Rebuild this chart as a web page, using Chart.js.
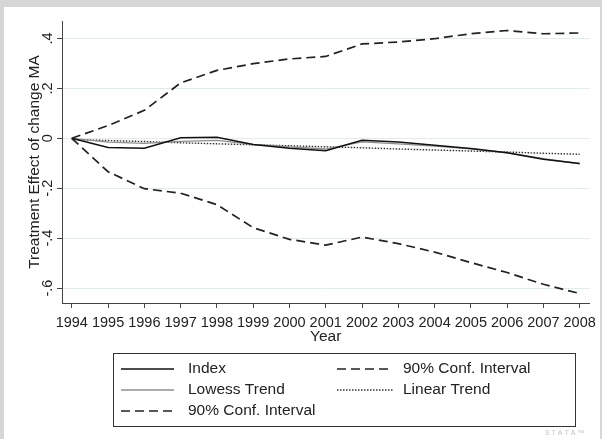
<!DOCTYPE html>
<html>
<head>
<meta charset="utf-8">
<script src="https://cdn.jsdelivr.net/npm/chart.js@4/dist/chart.umd.min.js"></script>
<style>
  html, body { margin: 0; padding: 0; background: #d6d6d6; }
  #wrap { width: 602px; height: 439px; position: relative; }
</style>
</head>
<body>
<div id="wrap"><canvas id="chart" width="602" height="439"></canvas></div>
<script>
// === Data ===
const YEARS = [1994, 1995, 1996, 1997, 1998, 1999, 2000, 2001, 2002, 2003, 2004, 2005, 2006, 2007, 2008];
const INDEX = [0, -0.037, -0.040, 0.002, 0.004, -0.025, -0.040, -0.050, -0.008, -0.015, -0.028, -0.041, -0.058, -0.084, -0.101];
const LOWESS = [0, -0.015, -0.020, -0.012, -0.008, -0.024, -0.034, -0.043, -0.014, -0.022, -0.031, -0.042, -0.058, -0.082, -0.102];
const LINEAR = [-0.005, -0.009, -0.013, -0.018, -0.022, -0.026, -0.030, -0.034, -0.038, -0.043, -0.047, -0.051, -0.055, -0.060, -0.064];
const CI_UPPER = [0, 0.051, 0.112, 0.222, 0.272, 0.299, 0.318, 0.328, 0.378, 0.386, 0.399, 0.419, 0.432, 0.419, 0.422];
const CI_LOWER = [0, -0.134, -0.202, -0.220, -0.266, -0.358, -0.405, -0.428, -0.396, -0.422, -0.456, -0.498, -0.538, -0.585, -0.622];
const Y_TICKS = [-0.6, -0.4, -0.2, 0, 0.2, 0.4];
const Y_TICK_LABELS = ['-.6', '-.4', '-.2', '0', '.2', '.4'];

const FONT = "'Liberation Sans', Arial, sans-serif";
const INK = '#222';
const TICK_PX = 14.5;
const TEXT_PX = 15.5;

const pts = (vals) => vals.map((v, i) => ({ x: YEARS[i], y: v }));

// legend slots: [dataset index, column, row]
const LEGEND_SLOTS = [[0, 0, 0], [2, 1, 0], [1, 0, 1], [3, 1, 1], [4, 0, 2]];

const framePlugin = {
    id: 'frame',
    beforeDraw(chart) {
        const c = chart.ctx;
        c.save();
        c.fillStyle = '#d6d6d6';
        c.fillRect(0, 0, chart.width, chart.height);
        c.fillStyle = '#ffffff';
        c.fillRect(4, 7, 596, 432);
        c.restore();
    },
    afterDraw(chart) {
        const c = chart.ctx;
        const ys = chart.scales.y;
        c.save();
        // stata-style rotated y tick labels
        c.fillStyle = INK;
        c.font = `${TICK_PX}px ${FONT}`;
        c.textAlign = 'center';
        c.textBaseline = 'middle';
        Y_TICKS.forEach((v, i) => {
            c.save();
            c.translate(48, ys.getPixelForValue(v));
            c.rotate(-Math.PI / 2);
            c.fillText(Y_TICK_LABELS[i], 0, 0);
            c.restore();
        });

        // legend box
        const bx = 113.5, by = 353.5, bw = 462, bh = 73;
        c.strokeStyle = '#333';
        c.lineWidth = 1;
        c.strokeRect(bx, by, bw, bh);
        const colX = [121, 337];
        const lineLen = [53, 56];
        const textX = [188, 403];
        const rowY = [369, 390, 411];
        c.font = `${TEXT_PX}px ${FONT}`;
        c.textAlign = 'left';
        LEGEND_SLOTS.forEach(([di, col, row]) => {
            const ds = chart.data.datasets[di];
            c.save();
            c.strokeStyle = ds.borderColor;
            c.lineWidth = ds.borderWidth;
            c.setLineDash(ds.borderDash || []);
            c.beginPath();
            c.moveTo(colX[col], rowY[row]);
            c.lineTo(colX[col] + lineLen[col], rowY[row]);
            c.stroke();
            c.restore();
            c.fillText(ds.label, textX[col], rowY[row]);
        });

        // watermark
        c.fillStyle = '#c4c4c4';
        c.font = `7px ${FONT}`;
        c.fillText('S T A T A ™', 545, 433);
        c.restore();
    }
};

new Chart(document.getElementById('chart'), {
    type: 'line',
    data: {
        datasets: [{
            label: 'Index',
            data: pts(INDEX),
            borderColor: '#111',
            borderWidth: 1.5
        }, {
            label: 'Lowess Trend',
            data: pts(LOWESS),
            borderColor: '#8f8f8f',
            borderWidth: 1.3
        }, {
            label: '90% Conf. Interval',
            data: pts(CI_UPPER),
            borderColor: '#222',
            borderWidth: 1.7,
            borderDash: [9, 5]
        }, {
            label: 'Linear Trend',
            data: pts(LINEAR),
            borderColor: '#333',
            borderWidth: 1.4,
            borderDash: [1.5, 1.5]
        }, {
            label: '90% Conf. Interval',
            data: pts(CI_LOWER),
            borderColor: '#222',
            borderWidth: 1.7,
            borderDash: [9, 5]
        }]
    },
    options: {
        responsive: false,
        animation: false,
        events: [],
        elements: {
            point: { radius: 0 },
            line: { tension: 0, fill: false }
        },
        layout: { padding: { left: 0, top: 21, right: 10, bottom: 0 } },
        scales: {
            x: {
                type: 'linear',
                min: 1993.73,
                max: 2008.27,
                afterBuildTicks: (s) => { s.ticks = YEARS.map(v => ({ value: v })); },
                afterFit: (s) => { s.height = 136; },
                border: { display: true, color: '#444', width: 1 },
                grid: { drawOnChartArea: false, drawTicks: true, tickLength: 5, tickColor: '#444' },
                ticks: {
                    color: INK,
                    font: { family: FONT, size: TICK_PX },
                    padding: 6,
                    maxRotation: 0,
                    autoSkip: false,
                    callback: (v) => String(v)
                },
                title: {
                    display: true,
                    text: 'Year',
                    color: INK,
                    font: { family: FONT, size: TEXT_PX },
                    padding: { top: 0, bottom: 92.5 }
                }
            },
            y: {
                min: -0.66,
                max: 0.47,
                afterBuildTicks: (s) => { s.ticks = Y_TICKS.map(v => ({ value: v })); },
                afterFit: (s) => { s.width = 62; },
                border: { display: true, color: '#444', width: 1 },
                grid: { color: '#e3eced', lineWidth: 1, drawTicks: true, tickLength: 5, tickColor: '#444' },
                ticks: { display: false },
                title: {
                    display: true,
                    text: 'Treatment Effect of change MA',
                    color: INK,
                    font: { family: FONT, size: TEXT_PX },
                    padding: { top: 25, bottom: 0 }
                }
            }
        },
        plugins: {
            legend: { display: false },
            tooltip: { enabled: false }
        }
    },
    plugins: [framePlugin]
});
</script>
</body>
</html>
